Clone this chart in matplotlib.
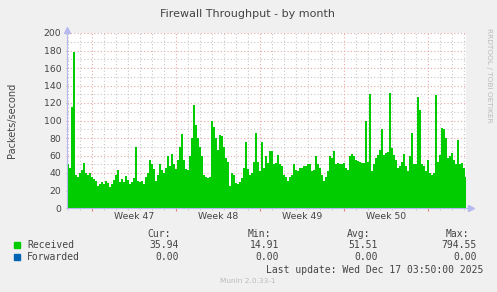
import numpy as np
import pandas as pd
import matplotlib
matplotlib.use('Agg')
import matplotlib.pyplot as plt
import matplotlib.dates as mdates

# --- data (4 hour samples) ---
received = [
    50, 46, 115, 178, 38, 36, 40, 44, 52, 40, 38, 40, 35, 33, 31, 25, 27, 30, 28, 31,
    29, 24, 27, 32, 38, 44, 30, 33, 30, 37, 32, 28, 30, 34, 70, 31, 30, 31, 27, 36,
    40, 55, 50, 45, 31, 38, 50, 44, 40, 46, 59, 48, 62, 50, 45, 55, 70, 85, 55, 45,
    43, 60, 80, 118, 95, 80, 70, 60, 38, 35, 34, 36, 99, 93, 80, 66, 84, 82, 70, 57,
    53, 25, 40, 38, 29, 28, 30, 34, 46, 76, 45, 38, 40, 53, 86, 53, 42, 76, 46, 59,
    51, 65, 65, 50, 52, 61, 50, 48, 38, 35, 31, 35, 38, 50, 44, 42, 46, 46, 48, 48,
    50, 50, 42, 44, 59, 50, 46, 38, 31, 36, 42, 59, 57, 65, 50, 52, 50, 50, 51, 46,
    43, 59, 62, 60, 55, 54, 53, 51, 52, 100, 53, 130, 42, 50, 57, 61, 66, 90, 61, 63,
    64, 131, 69, 61, 55, 46, 48, 53, 62, 48, 42, 60, 86, 50, 50, 127, 112, 50, 48, 42,
    55, 40, 38, 40, 129, 53, 61, 91, 90, 80, 57, 60, 63, 55, 50, 78, 50, 52, 46, 36,
]
start = '2025-11-13 22:00'
end = '2025-12-17 04:00'

series_names = ['Received', 'Forwarded']
series_colors = ['#00CC00', '#0066B3']
cur = ['35.94', '0.00']
mins = ['14.91', '0.00']
avgs = ['51.51', '0.00']
maxs = ['794.55', '0.00']
week_labels = ['Week 47', 'Week 48', 'Week 49', 'Week 50']
week_starts = ['2025-11-16', '2025-11-23', '2025-11-30', '2025-12-07', '2025-12-14']

W, H = 497, 292
fig = plt.figure(figsize=(W / 100, H / 100), dpi=100, facecolor='#F0F0F0')
ax = fig.add_axes([67 / W, 1 - 208 / H, 399 / W, 175 / H], facecolor='white')

edges = pd.date_range(start=start, periods=len(received) + 1, freq='4h')
ax.stairs(received, mdates.date2num(edges), fill=True, color=series_colors[0],
          baseline=0, zorder=2)

ax.set_xlim(mdates.date2num(pd.Timestamp(start)), mdates.date2num(pd.Timestamp(end)))
ax.set_ylim(0, 200)

# grid
red = '#E8A8A8'
grey = '#C8C8C8'
for v in range(10, 201, 10):
    ax.axhline(v, color=red if v % 20 == 0 else grey, lw=0.8,
               linestyle=(0, (1, 2)), zorder=1)
days = pd.date_range(start='2025-11-14', end='2025-12-17', freq='D')
wk = set(pd.to_datetime(week_starts))
for d in days:
    ax.axvline(mdates.date2num(d), color=red if d in wk else grey, lw=0.8,
               linestyle=(0, (1, 2)), zorder=1)

# ticks
ax.set_yticks(range(0, 201, 20))
ax.set_yticks(range(10, 200, 20), minor=True)
ax.tick_params(axis='y', which='major', length=2, color='#C8A0A0', labelsize=6.7,
               labelcolor='#444444', pad=3, direction='inout')
ax.tick_params(axis='y', which='minor', length=2, color='#C8C8C8', direction='inout')
ws = mdates.date2num(pd.to_datetime(week_starts))
ax.set_xticks(ws)
ax.set_xticklabels([])
ax.set_xticks(mdates.date2num(days), minor=True)
ax.tick_params(axis='x', which='major', length=4, color='#E08080', direction='inout')
ax.tick_params(axis='x', which='minor', length=3, color='#C8C8C8', direction='inout')
for i, lab in enumerate(week_labels):
    ax.text((ws[i] + ws[i + 1]) / 2, -5, lab, ha='center', va='top', fontsize=6.7,
            color='#444444', transform=ax.transData)

for s in ['top', 'right']:
    ax.spines[s].set_visible(False)
axis_col = '#B8B8F0'
ax.spines['left'].set_color(axis_col)
ax.spines['bottom'].set_color(axis_col)
ax.spines['left'].set_linewidth(0.8)
ax.spines['bottom'].set_linewidth(0.8)
ax.plot([0], [1.02], marker='^', ms=4, color=axis_col, transform=ax.transAxes, clip_on=False)
ax.plot([1.012], [0], marker='>', ms=4, color=axis_col, transform=ax.transAxes, clip_on=False)
ax.plot([0, 0], [1, 1.02], color=axis_col, lw=0.8, transform=ax.transAxes, clip_on=False)
ax.plot([1, 1.012], [0, 0], color=axis_col, lw=0.8, transform=ax.transAxes, clip_on=False)

# texts
fig.text(248 / W, 1 - 14 / H, 'Firewall Throughput - by month', ha='center', va='center',
         fontsize=8, color='#444444')
fig.text(12 / W, 1 - 120 / H, 'Packets/second', rotation=90, ha='center', va='center',
         fontsize=7, color='#444444')
fig.text(489 / W, 1 - 28 / H, 'RRDTOOL / TOBI OETIKER', rotation=270, ha='center', va='top',
         fontsize=5.3, color='#BBBBBB')

mono = dict(family='DejaVu Sans Mono', fontsize=7, color='#444444')
cols_x = [179, 279, 378, 477]
head_x = [171, 271, 370, 469]
for hx, h in zip(head_x, ['Cur:', 'Min:', 'Avg:', 'Max:']):
    fig.text(hx / W, 1 - 234 / H, h, ha='right', va='center', **mono)
rows_y = [245, 257]
for i, name in enumerate(series_names):
    y = rows_y[i]
    fig.patches.append(plt.Rectangle((14 / W, 1 - (y + 3) / H), 6 / W, 6 / H,
                                     color=series_colors[i], transform=fig.transFigure,
                                     figure=fig))
    fig.text(27 / W, 1 - y / H, name, ha='left', va='center', **mono)
    for cx, val in zip(cols_x, [cur[i], mins[i], avgs[i], maxs[i]]):
        fig.text(cx / W, 1 - y / H, val, ha='right', va='center', **mono)
fig.text(483 / W, 1 - 270 / H, 'Last update: Wed Dec 17 03:50:00 2025', ha='right',
         va='center', **mono)
fig.text(248 / W, 1 - 281 / H, 'Munin 2.0.33-1', ha='center', va='center',
         fontsize=5.3, color='#BBBBBB')

fig.savefig('out.png', dpi=100, facecolor=fig.get_facecolor())
